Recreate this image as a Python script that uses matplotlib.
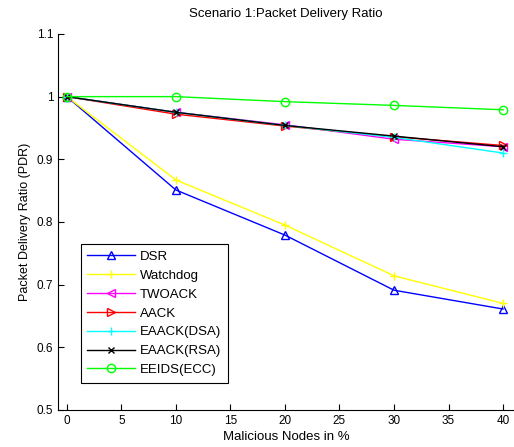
import matplotlib
matplotlib.use("Agg")
import matplotlib.pyplot as plt
from matplotlib.ticker import FormatStrFormatter

plt.rcParams["font.family"] = ["Liberation Sans", "DejaVu Sans"]

malicious = [0, 10, 20, 30, 40]
dsr = [1.0, 0.851, 0.779, 0.691, 0.661]
watchdog = [1.0, 0.867, 0.795, 0.714, 0.670]
twoack = [1.0, 0.975, 0.955, 0.932, 0.920]
aack = [1.0, 0.972, 0.953, 0.936, 0.922]
eaack_dsa = [1.0, 0.975, 0.954, 0.935, 0.910]
eaack_rsa = [1.0, 0.975, 0.954, 0.937, 0.920]
eeids = [1.0, 1.0, 0.992, 0.986, 0.979]

series = [
    ("DSR", dsr, "#0000ff", "^"),
    ("Watchdog", watchdog, "#ffff00", "+"),
    ("TWOACK", twoack, "#ff00ff", "<"),
    ("AACK", aack, "#ff0000", ">"),
    ("EAACK(DSA)", eaack_dsa, "#00ffff", "+"),
    ("EAACK(RSA)", eaack_rsa, "#000000", "x"),
    ("EEIDS(ECC)", eeids, "#00ff00", "o"),
]

fig = plt.figure(figsize=(5.14, 4.47), dpi=100)
ax = fig.add_axes([0.113, 0.083, 0.887, 0.841])

for name, vals, color, marker in series:
    ms = 4 if marker == "x" else 6
    ax.plot(malicious, vals, color=color, marker=marker, markersize=ms,
            markerfacecolor="none", markeredgecolor=color, linewidth=1,
            label=name)

ax.set_xlim(-0.8, 41)
ax.set_ylim(0.5, 1.1)
ax.set_xticks(range(0, 41, 5))
ax.set_yticks([0.5, 0.6, 0.7, 0.8, 0.9, 1.0, 1.1])
ax.yaxis.set_major_formatter(FormatStrFormatter("%g"))
ax.tick_params(direction="in", labelsize=8.5, length=4)
ax.spines["top"].set_visible(False)
ax.spines["right"].set_visible(False)

ax.set_title("Scenario 1:Packet Delivery Ratio", fontsize=9.5, pad=12)
ax.set_xlabel("Malicious Nodes in %", fontsize=9.5, labelpad=3)
ax.set_ylabel("Packet Delivery Ratio (PDR)", fontsize=9)

leg = ax.legend(loc="lower left", bbox_to_anchor=(0.035, 0.055), fontsize=9.5,
                fancybox=False, framealpha=1, edgecolor="black",
                handlelength=3.6, handletextpad=0.4, borderpad=0.5,
                labelspacing=0.5)
leg.get_frame().set_linewidth(0.8)

fig.savefig("out.png", dpi=100)
